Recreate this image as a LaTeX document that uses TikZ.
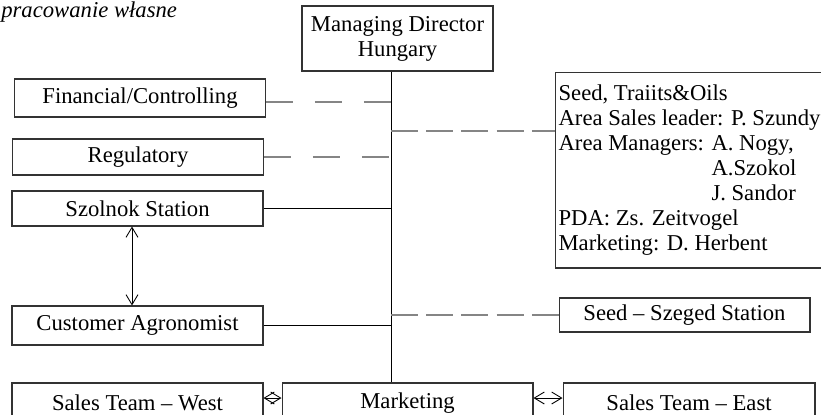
\documentclass[tikz,border=0pt]{standalone}
\usepackage{fontspec}
\setmainfont{Liberation Serif}
\usepackage{tikz}
\usetikzlibrary{arrows.meta, positioning, calc}
\definecolor{LinkGrey}{HTML}{858585}
\definecolor{EdgeGrey}{HTML}{333333}
\newcommand{\orgfont}{\fontsize{12.9}{14.2}\selectfont}
\tikzset{
  unitbox/.style={rectangle, draw=EdgeGrey, line width=0.6pt, minimum width=5.02cm, minimum height=0.76cm, inner sep=1pt, font=\orgfont, align=center},
  solidlink/.style={draw=black, line width=0.5pt},
  dashlink/.style={draw=LinkGrey, line width=1.6pt, dash pattern=on 0.54cm off 0.44cm},
  denselink/.style={draw=LinkGrey, line width=1.6pt, dash pattern=on 0.54cm off 0.165cm},
  twoway/.style={{Straight Barb[length=0.2cm,width=0.24cm]}-{Straight Barb[length=0.2cm,width=0.24cm]}, line width=0.5pt}
}

\begin{document}
\begin{tikzpicture}[x=0.02cm, y=-0.02cm]
  \useasboundingbox (0,0) rectangle (821,414);
  \node[anchor=base west, inner sep=0, font=\orgfont\itshape] (src) at (1,17) {pracowanie własne};

  \node[unitbox, minimum width=3.82cm, minimum height=1.3cm] (md) at (397.5,38.5) {Managing Director\\Hungary};
  \coordinate (spine) at (391,0);

  \node[unitbox] (fin) at (140,98) {Financial/Controlling};
  \node[unitbox, minimum height=0.72cm] (reg) at (138,157) {Regulatory};
  \node[unitbox, minimum height=0.7cm] (szo) at (137.5,208.5) {Szolnok Station};
  \node[unitbox, minimum height=0.78cm] (cag) at (137.5,325.5) {Customer Agronomist};
  \node[unitbox, minimum height=0.8cm] (stw) at (137.5,403) {Sales Team – West};
  \node[unitbox, minimum height=0.8cm] (mkt) at (407.5,403) {Marketing};
  \node[unitbox, minimum width=5.04cm, minimum height=0.8cm] (ste) at (689,403) {Sales Team – East};
  \node[unitbox, minimum height=0.68cm] (sze) at (684.5,315) {Seed – Szeged Station};

  \node[unitbox, minimum width=5.22cm, minimum height=3.92cm, align=left, inner xsep=0.06cm] (seed) at (689.5,170)
    {Seed, Traiits\&Oils\\Area Sales leader: P. Szundy\\Area Managers: A. Nogy,\\\hphantom{Area Managers: }A.Szokol\\\hphantom{Area Managers: }J. Sandor\\PDA: Zs. Zeitvogel\\Marketing: D. Herbent};
  \coordinate (seedin) at ([yshift=0.78cm]seed.west);
  \coordinate (finout) at ([yshift=-0.08cm]fin.east);

  \draw[solidlink] (md.south -| spine) -- (mkt.north -| spine);
  \draw[solidlink] (szo.east) -- (szo.east -| spine);
  \draw[solidlink] (cag.east) -- (cag.east -| spine);

  \draw[dashlink] (finout) -- (finout -| spine);
  \draw[dashlink] (reg.east) -- (reg.east -| spine);
  \draw[denselink] (spine |- seedin) -- (seedin);
  \draw[denselink] (spine |- sze.west) -- (sze.west);

  \draw[twoway] ([xshift=-0.11cm]szo.south) -- ([xshift=-0.11cm]cag.north);
  \draw[twoway] ([yshift=0.1cm]stw.east) -- ([yshift=0.1cm]mkt.west);
  \draw[twoway] ([yshift=0.1cm]mkt.east) -- ([yshift=0.1cm]ste.west);
\end{tikzpicture}
\end{document}
